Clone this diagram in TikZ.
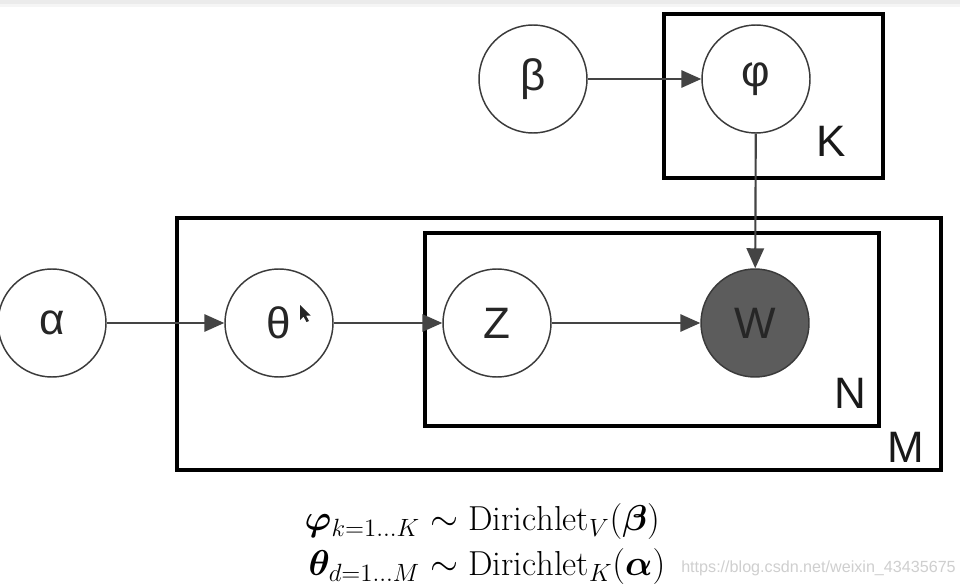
\documentclass[tikz,border=0pt]{standalone}
\usepackage{amsmath,bm}
\usepackage{fontspec}
\newfontfamily\labelfont{Liberation Sans}
\usetikzlibrary{arrows.meta}
\definecolor{edgegray}{HTML}{444444}
\definecolor{rimgray}{HTML}{3A3A3A}
\definecolor{obsgray}{HTML}{5C5C5C}
\definecolor{wmgray}{HTML}{CFCFCF}
\tikzset{
  var/.style={circle, draw=rimgray, line width=1.1pt, minimum size=81pt, inner sep=0pt,
    font=\labelfont\fontsize{33}{33}\selectfont, text=black!85},
  obs/.style={var, fill=obsgray},
  plate/.style={draw=black, line width=3pt},
  platelabel/.style={font=\labelfont\fontsize{33}{33}\selectfont, text=black!90, inner sep=0pt},
  link/.style={draw=edgegray, line width=1.6pt, -{Triangle[length=15pt,width=13pt]}}
}
\begin{document}
\begin{tikzpicture}[x=0.75pt,y=-0.75pt]
\useasboundingbox (0,0) rectangle (960,588);
\fill[white] (0,0) rectangle (960,588);
\fill[black!8] (0,0) rectangle (960,4);
\fill[black!4] (0,4) rectangle (960,7);
% plates
\draw[plate] (664,14) rectangle (883,178);
\draw[plate] (177,218) rectangle (941,470);
\draw[plate] (425,233) rectangle (879,426);
\node[platelabel] (Klab) at (831,141) {K};
\node[platelabel] (Nlab) at (850,393) {N};
\node[platelabel] (Mlab) at (906,447) {M};
% variables
\node[var] (beta) at (533,79) {β};
\node[var] (phi) at (756,79) {φ};
\node[var] (alpha) at (52,323) {α};
\node[var] (theta) at (279,323) {θ};
\node[var] (z) at (497,323) {Z};
\node[obs] (w) at (755,323) {W};
% edges
\draw[link] (beta) -- (phi);
\draw[link] (phi) -- (w);
\draw[link] (alpha) -- (theta);
\draw[link] (theta) -- (z);
\draw[link] (z) -- (w);
% mouse pointer
\fill[black!85] (300,305) -- (300,320) -- (303.5,316.5) -- (306.5,322) -- (309,321) -- (306,315.5) -- (310.5,315.5) -- cycle;
% formulas
\node[inner sep=0pt] (eqs) at (485,543)
  {\scalebox{1.3}{\fontsize{20}{30}\selectfont$\begin{aligned}
   \bm{\varphi}_{k=1\ldots K} &\sim \mathrm{Dirichlet}_V(\bm{\beta})\\[-7pt]
   \bm{\theta}_{d=1\ldots M} &\sim \mathrm{Dirichlet}_K(\bm{\alpha})
   \end{aligned}$}};
\node[anchor=west, inner sep=0pt, text=wmgray, font=\labelfont\fontsize{12.1}{12.1}\selectfont] (wm) at (681,568) {https://blog.csdn.net/weixin\_43435675};
\end{tikzpicture}
\end{document}
